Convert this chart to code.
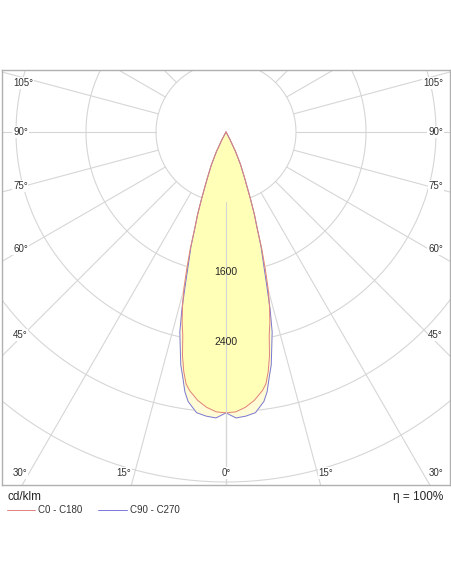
import numpy as np, pandas as pd, matplotlib
matplotlib.use("Agg")
import matplotlib.pyplot as plt, seaborn as sns

gamma = [0, 2, 4, 6, 8, 9, 10, 11, 12, 13, 14, 15, 16, 17, 18, 19, 20, 22, 24, 26, 28, 30]
c0_c180 = [3210, 3200, 3155, 3085, 2985, 2915, 2780, 2605, 2375, 2230, 2055, 1865, 1625, 1395,
           1145, 995, 825, 570, 410, 250, 90, 0]
c90_c270 = [3210, 3270, 3255, 3225, 3110, 3005, 2845, 2710, 2515, 2345, 2080, 1780, 1545, 1370,
            1145, 995, 825, 570, 410, 250, 90, 0]
ring_labels = ["1600", "2400"]
angle_labels = ["105°", "90°", "75°", "60°", "45°", "30°"]
bottom_labels = ["15°", "0°", "15°"]

S = 800 / 70.0  # cd per pixel
sns.set_style("white")
plt.rcParams['font.family'] = ['Liberation Sans', 'DejaVu Sans']
fig = plt.figure(figsize=(4.52, 5.84), dpi=100)
ax = fig.add_axes([2/452, (584-485)/584, 448/452, 415/584])
ax.set_xlim(-224*S, 224*S); ax.set_ylim(-353*S, 62*S)
for s in ax.spines.values():
    s.set_color('#b0b0b0'); s.set_linewidth(1)
ax.set_xticks([]); ax.set_yticks([])

gc = '#d6d6d6'
t = np.linspace(0, 2*np.pi, 400)
for r in range(800, 7201, 800):
    ax.plot(r*np.sin(t), r*np.cos(t), color=gc, lw=0.8, zorder=1)
for a in range(0, 181, 15):
    for sgn in (1, -1):
        ar = np.radians(a)
        ax.plot([sgn*800*np.sin(ar), sgn*8000*np.sin(ar)], [-800*np.cos(ar), -8000*np.cos(ar)], color=gc, lw=0.8, zorder=1)

def curve(vals):
    g = np.radians(np.concatenate([-np.array(gamma[::-1]), np.array(gamma[1:])]))
    r = np.concatenate([np.array(vals[::-1]), np.array(vals[1:])])
    return pd.DataFrame({'x': r*np.sin(g), 'y': -r*np.cos(g)})

db = curve(c90_c270); dr = curve(c0_c180)
ax.fill(db.x, db.y, color='#fffbd6', zorder=2)
ax.fill(dr.x, dr.y, color='#ffffb8', zorder=3)
sns.lineplot(data=db, x='x', y='y', sort=False, color='#7878d8', lw=0.7, ax=ax, zorder=4, estimator=None)
sns.lineplot(data=dr, x='x', y='y', sort=False, color='#e08080', lw=0.7, ax=ax, zorder=5, estimator=None)
ax.plot([0, 0], [-800, -8000], color=gc, lw=0.8, zorder=6)
ax.set_xlabel(''); ax.set_ylabel('')

for lab, r in zip(ring_labels, [1600, 2400]):
    ax.text(0, -r, lab, ha='center', va='center', fontsize=7.5, zorder=7)
ys = [83, 132, 186, 249, 335, 473]
for lab, yp in zip(angle_labels, ys):
    y = -(yp-132)*S
    ax.text(-213*S, y, lab, ha='left', va='center', fontsize=7, color='#333333', zorder=7,
            bbox=dict(fc='white', ec='none', pad=0.5))
    ax.text(217*S, y, lab, ha='right', va='center', fontsize=7, color='#333333', zorder=7,
            bbox=dict(fc='white', ec='none', pad=0.5))
for lab, xp in zip(bottom_labels, [-102, 0, 100]):
    ax.text(xp*S, -(473-132)*S, lab, ha='center', va='center', fontsize=7, color='#333333', zorder=7,
            bbox=dict(fc='white', ec='none', pad=0.5))

fig.text(8/452, 1-497/584, 'cd/klm', fontsize=8.5, va='center')
fig.text(443/452, 1-497/584, 'η = 100%', fontsize=8.5, va='center', ha='right')
fig.add_artist(plt.Line2D([7/452, 35/452], [1-510/584]*2, color='#e08080', lw=0.7))
fig.text(38/452, 1-510/584, 'C0 - C180', fontsize=7, va='center', color='#333333')
fig.add_artist(plt.Line2D([98/452, 127/452], [1-510/584]*2, color='#7878d8', lw=0.7))
fig.text(130/452, 1-510/584, 'C90 - C270', fontsize=7, va='center', color='#333333')
fig.savefig('out.png', dpi=100)
